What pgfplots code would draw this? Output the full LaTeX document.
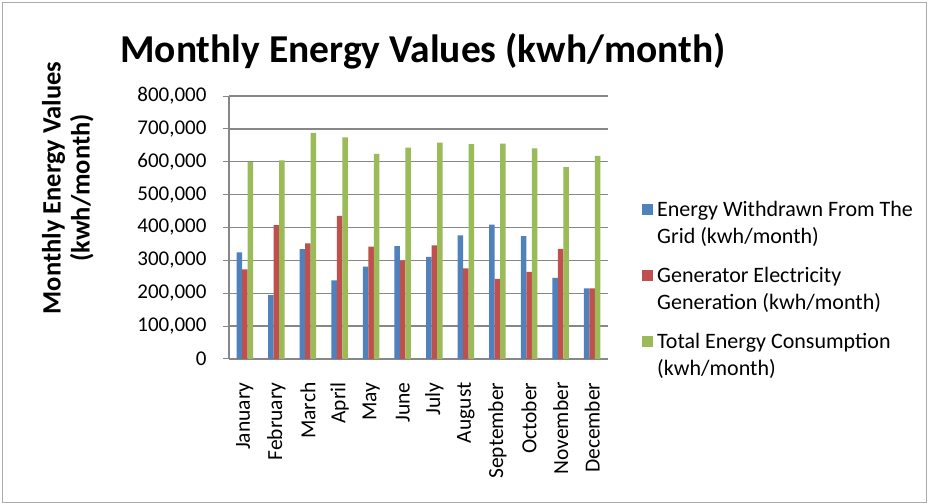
\documentclass[border=0pt]{standalone}
\usepackage{pgfplots}
\pgfplotsset{compat=1.18}
\usepackage{fontspec}
\setmainfont{Carlito}
\definecolor{cblue}{HTML}{4F81BD}
\definecolor{cred}{HTML}{C0504D}
\definecolor{cgreen}{HTML}{9BBB59}
\definecolor{axgray}{HTML}{878787}
\begin{document}
\begin{tikzpicture}[x=1pt,y=1pt]
\path[fill=white] (0,0) rectangle (929,503);
\draw[axgray!70, line width=1pt] (2.5,0.5) rectangle (926.5,500.5);
\node[font=\fontsize{39.5}{44}\selectfont\bfseries] at (423,452) {Monthly Energy Values (kwh/month)};
\begin{axis}[
  at={(229pt,144pt)}, anchor=south west,
  width=379pt, height=263pt, scale only axis,
  ymin=0, ymax=800000,
  ytick={0,100000,200000,300000,400000,500000,600000,700000,800000},
  yticklabels={0,{100,000},{200,000},{300,000},{400,000},{500,000},{600,000},{700,000},{800,000}},
  xmin=-0.5, xmax=11.5,
  xtick={0,...,11},
  xticklabels={January,February,March,April,May,June,July,August,September,October,November,December},
  xticklabel style={rotate=90, anchor=east, font=\fontsize{21.5}{24}\selectfont},
  xticklabel shift=14pt,
  xtick style={draw=none},
  yticklabel style={font=\fontsize{21}{24}\selectfont, xshift=-13pt},
  scaled y ticks=false,
  axis x line*=bottom, axis y line*=left,
  axis line style={draw=axgray, line width=1.6pt, -},
  ymajorgrids, grid style={draw=axgray, line width=1.3pt},
  y tick style={draw=axgray, line width=1pt},
  tick align=outside, major tick length=6pt,
  ybar=0pt, bar width=5.5pt,
  ylabel={\bfseries Monthly Energy Values\\ \bfseries (kwh/month)},
  ylabel style={font=\fontsize{26.5}{29}\selectfont, align=center, at={(axis description cs:-0.425,0.65)}, anchor=center},
  legend style={at={(1.0897,0.608)}, anchor=north west, draw=none, fill=none,
    font=\fontsize{22}{27}\selectfont, cells={align=left, anchor=west}, row sep=18pt, inner sep=0pt,
    nodes={inner xsep=4pt}},
  legend image code/.code={\fill[#1] (0pt,8pt) rectangle (11pt,19pt);},
]
\addplot[fill=cblue, draw=none] coordinates {(0,324000) (1,194000) (2,334000) (3,239000) (4,281000) (5,343000) (6,311000) (7,376000) (8,409000) (9,374000) (10,247000) (11,215000)};
\addplot[fill=cred, draw=none] coordinates {(0,273000) (1,407000) (2,352000) (3,435000) (4,342000) (5,299000) (6,346000) (7,276000) (8,244000) (9,265000) (10,335000) (11,215000)};
\addplot[fill=cgreen, draw=none] coordinates {(0,599000) (1,604000) (2,688000) (3,674000) (4,624000) (5,643000) (6,658000) (7,654000) (8,655000) (9,641000) (10,584000) (11,618000)};
\legend{Energy Withdrawn From The\\Grid (kwh/month), Generator Electricity\\Generation (kwh/month), Total Energy Consumption\\(kwh/month)}
\end{axis}
\end{tikzpicture}
\end{document}
